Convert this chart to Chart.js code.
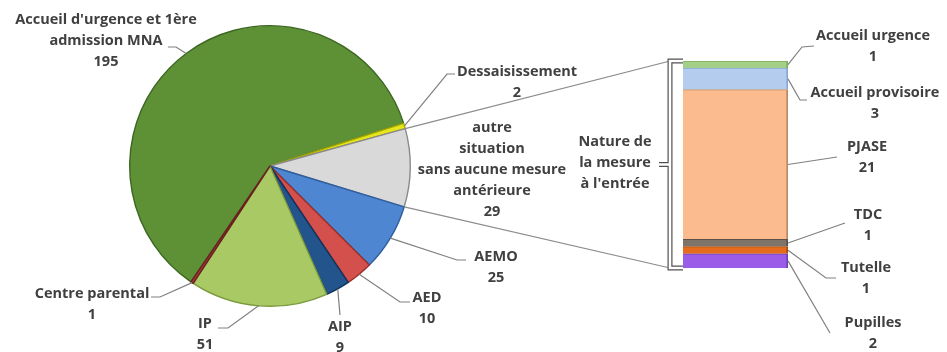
<!DOCTYPE html>
<html><head><meta charset="utf-8">
<script src="https://cdn.jsdelivr.net/npm/chart.js@4/dist/chart.umd.min.js"></script>
<style>
html,body{margin:0;padding:0;background:#fff;}
#wrap{position:relative;width:947px;height:352px;overflow:hidden;}
canvas{position:absolute;left:0;top:0;}
</style></head><body>
<div id="wrap"><canvas id="pie" width="947" height="352" style="width:947px;height:352px"></canvas><canvas id="bar" width="947" height="352" style="width:947px;height:352px"></canvas></div>
<script>
// ---- data ----
const pieLabels = [
  ["Accueil d'urgence et 1ère","admission MNA"],
  ["Dessaisissement"],
  ["autre","situation","sans aucune mesure","antérieure"],
  ["AEMO"],
  ["AED"],
  ["AIP"],
  ["IP"],
  ["Centre parental"]
];
const pieValues = [195, 2, 29, 25, 10, 9, 51, 1];
const barLabels = [["Accueil urgence"],["Accueil provisoire"],["PJASE"],["TDC"],["Tutelle"],["Pupilles"]];
const barValues = [1, 3, 21, 1, 1, 2];
const barTitle = ["Nature de","la mesure","à l'entrée"];
const detailSlice = 2; // slice broken down in the bar

// ---- styles / layout ----
const pieColors  = ['#5e9136','#e6e61c','#d9d9d9','#4f86d1','#d4504c','#23548b','#a8c964','#a13a3a'];
const pieBorders = ['#3d6622','#a8a800','#8a8a8a','#2e5e9e','#9a2e2a','#10325a','#7b9a3e','#6b2020'];
const barColors  = ['#a3cf87','#b4cdee','#fbbb8e','#7d7368','#e46c1c','#9b5de8'];
const barBorders = ['#7fae60','#8aa8d4','#b98a66','#5a5249','#a84e10','#6e3fb8'];
const FONT = 'bold 14.5px "Open Sans", Lato, sans-serif';
const TEXT = '#404040';
const LEAD = '#808080';
const LH = 21;
const pieLabelLayout = [
  {x:106,y:20,path:[[176,47],[168,47]]},
  {x:517,y:72,path:[[447,74],[455,74]]},
  {x:492,y:128,path:null},
  {x:496,y:257,path:[[457,260],[466,260]]},
  {x:427,y:298,path:[[400,302],[410,302]]},
  {x:340,y:327,path:[[340,315]]},
  {x:205,y:324,path:[[228,328],[218,328]]},
  {x:92,y:294,path:[[160,297],[151,297]]}
];
const barLabelLayout = [
  {x:873,y:36,path:[[802,47],[814,46]]},
  {x:875,y:93,path:[[800,100],[807,100]]},
  {x:867,y:147,path:[[837,157]]},
  {x:868,y:215,path:[[845,223]]},
  {x:866,y:268,path:[[826,278],[836,278]]},
  {x:873,y:323,path:[[830,333]]}
];

function drawLabel(ctx, lines, lay, start){
  if (lay.path && start){
    ctx.save();
    ctx.strokeStyle = LEAD; ctx.lineWidth = 1.2;
    ctx.beginPath(); ctx.moveTo(start[0], start[1]);
    lay.path.forEach(p => ctx.lineTo(p[0], p[1]));
    ctx.stroke(); ctx.restore();
  }
  ctx.save();
  ctx.font = FONT; ctx.fillStyle = TEXT; ctx.textAlign = 'center'; ctx.textBaseline = 'middle';
  lines.forEach((t,i) => ctx.fillText(t, lay.x, lay.y + i*LH));
  ctx.restore();
}

const pieLabelPlugin = {
  id:'pieLabels',
  afterDraw(chart){
    const ctx = chart.ctx;
    const arcs = chart.getDatasetMeta(0).data;
    arcs.forEach((arc,i) => {
      const a = (arc.startAngle + arc.endAngle)/2;
      const r = arc.outerRadius;
      const start = [arc.x + r*Math.cos(a), arc.y + r*Math.sin(a)];
      const lines = pieLabels[i].concat([String(pieValues[i])]);
      drawLabel(ctx, lines, pieLabelLayout[i], start);
    });
  }
};

const pieChart = new Chart(document.getElementById('pie'), {
  type:'pie',
  data:{ labels: pieLabels, datasets:[{ data: pieValues, backgroundColor: pieColors, borderColor: pieBorders, borderWidth: 1.4 }] },
  options:{
    responsive:false, animation:false, rotation:214.3,
    layout:{ padding:{ left:129, right:536, top:25, bottom:45 } },
    plugins:{ legend:{display:false}, tooltip:{enabled:false} }
  },
  plugins:[pieLabelPlugin]
});

const barOverlay = {
  id:'barOverlay',
  afterDraw(chart){
    const ctx = chart.ctx;
    const area = chart.chartArea;
    const ys = chart.scales.y;
    const total = barValues.reduce((s,v)=>s+v,0);
    const top = ys.getPixelForValue(total), bot = ys.getPixelForValue(0);
    const bx = area.left - 13;
    // connectors from pie slice
    const arc = pieChart.getDatasetMeta(0).data[detailSlice];
    const r = arc.outerRadius;
    const p1 = [arc.x + r*Math.cos(arc.startAngle), arc.y + r*Math.sin(arc.startAngle)];
    const p2 = [arc.x + r*Math.cos(arc.endAngle), arc.y + r*Math.sin(arc.endAngle)];
    ctx.save();
    ctx.strokeStyle = '#8c8c8c'; ctx.lineWidth = 1.2;
    ctx.beginPath(); ctx.moveTo(p1[0],p1[1]); ctx.lineTo(bx, top); ctx.stroke();
    ctx.beginPath(); ctx.moveTo(p2[0],p2[1]); ctx.lineTo(bx, bot); ctx.stroke();
    // bracket
    const mid = (top+bot)/2;
    const br = () => { ctx.beginPath(); ctx.moveTo(area.left, top); ctx.lineTo(bx, top); ctx.lineTo(bx, bot); ctx.lineTo(area.left, bot); ctx.moveTo(bx, mid); ctx.lineTo(bx-11, mid); ctx.stroke(); };
    ctx.lineJoin = 'miter';
    ctx.strokeStyle = '#505050'; ctx.lineWidth = 5; br();
    ctx.strokeStyle = '#ffffff'; ctx.lineWidth = 2.6; br();
    ctx.restore();
    // title
    ctx.save();
    ctx.font = FONT; ctx.fillStyle = TEXT; ctx.textAlign = 'center'; ctx.textBaseline = 'middle';
    barTitle.forEach((t,i) => ctx.fillText(t, 615, mid - LH + i*LH - 2));
    ctx.restore();
    // segment labels
    const n = barValues.length;
    chart.data.datasets.forEach((ds, di) => {
      const el = chart.getDatasetMeta(di).data[0];
      const idx = n - 1 - di;
      const start = [el.x + el.width/2, (el.y + el.base)/2];
      drawLabel(ctx, barLabels[idx].concat([String(barValues[idx])]), barLabelLayout[idx], start);
    });
  }
};

const barDatasets = barValues.map((v,i) => ({
  label: barLabels[i].join(' '), data:[v], backgroundColor: barColors[i], borderColor: barBorders[i], borderWidth: {right:2, top:1}, borderSkipped:false
})).reverse();

new Chart(document.getElementById('bar'), {
  type:'bar',
  data:{ labels:[''], datasets: barDatasets },
  options:{
    responsive:false, animation:false,
    layout:{ padding:{ left:683, right:159, top:61, bottom:84 } },
    datasets:{ bar:{ categoryPercentage:1, barPercentage:1 } },
    scales:{
      x:{ stacked:true, display:false },
      y:{ stacked:true, display:false, min:0, max: barValues.reduce((s,v)=>s+v,0) }
    },
    plugins:{ legend:{display:false}, tooltip:{enabled:false} }
  },
  plugins:[barOverlay]
});
</script>
</body></html>
